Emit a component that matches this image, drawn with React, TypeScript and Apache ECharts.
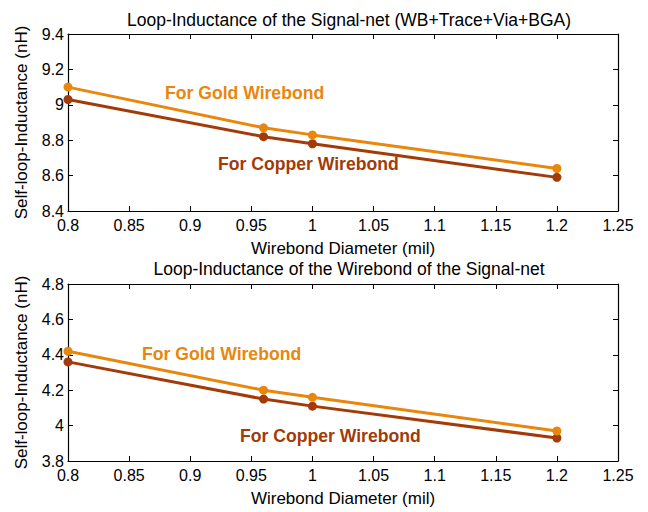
import React, { useEffect, useRef } from "react";
import * as echarts from "echarts";

const diameters = [0.8, 0.96, 1.0, 1.2];
const goldTotal = [9.1, 8.87, 8.83, 8.64];
const copperTotal = [9.03, 8.82, 8.78, 8.59];
const goldWb = [4.42, 4.2, 4.16, 3.97];
const copperWb = [4.36, 4.15, 4.11, 3.93];
const titles = [
  "Loop-Inductance of the Signal-net (WB+Trace+Via+BGA)",
  "Loop-Inductance of the Wirebond of the Signal-net",
];
const xName = "Wirebond Diameter (mil)";
const yName = "Self-loop-Inductance (nH)";
const goldLabel = "For Gold Wirebond";
const copperLabel = "For Copper Wirebond";

const GOLD = "#E8870C";
const COPPER = "#A23B08";
const FONT = "Arial, 'Liberation Sans', Helvetica, sans-serif";

export default function App() {
  const ref = useRef<HTMLDivElement>(null);
  useEffect(() => {
    if (!ref.current) return;
    const chart = echarts.init(ref.current, null, { renderer: "svg" });
    const grids = [
      { left: 68, top: 34, width: 550, height: 177 },
      { left: 68, top: 284, width: 550, height: 177 },
    ];
    const axisLine = { show: true, lineStyle: { color: "#000", width: 1.2 } };
    const tick = { show: true, inside: true, length: 5, lineStyle: { color: "#000" } };
    const xAxes: any[] = [];
    const yAxes: any[] = [];
    const yRanges = [
      [8.4, 9.4],
      [3.8, 4.8],
    ];
    [0, 1].forEach((g) => {
      xAxes.push({
        type: "value",
        gridIndex: g,
        position: "bottom",
        min: 0.8,
        max: 1.25,
        interval: 0.05,
        axisLine,
        axisTick: tick,
        splitLine: { show: false },
        axisLabel: { color: "#000", fontSize: 16, fontFamily: FONT, margin: 6 },
        name: xName,
        nameLocation: "middle",
        nameGap: 29,
        nameTextStyle: { color: "#000", fontSize: 17, fontFamily: FONT },
      });
      xAxes.push({
        type: "value",
        gridIndex: g,
        position: "top",
        min: 0.8,
        max: 1.25,
        interval: 0.05,
        axisLine,
        axisTick: tick,
        splitLine: { show: false },
        axisLabel: { show: false },
      });
      yAxes.push({
        type: "value",
        gridIndex: g,
        position: "left",
        min: yRanges[g][0],
        max: yRanges[g][1],
        interval: 0.2,
        axisLine,
        axisTick: tick,
        splitLine: { show: false },
        axisLabel: { color: "#000", fontSize: 16, fontFamily: FONT, margin: 4 },
        name: yName,
        nameLocation: "middle",
        nameGap: 38,
        nameTextStyle: { color: "#000", fontSize: 17, fontFamily: FONT },
      });
      yAxes.push({
        type: "value",
        gridIndex: g,
        position: "right",
        min: yRanges[g][0],
        max: yRanges[g][1],
        interval: 0.2,
        axisLine,
        axisTick: tick,
        splitLine: { show: false },
        axisLabel: { show: false },
      });
    });
    const mk = (data: number[], color: string, g: number) => ({
      type: "line",
      xAxisIndex: g * 2,
      yAxisIndex: g * 2,
      data: diameters.map((d, i) => [d, data[i]]),
      symbol: "circle",
      symbolSize: 9,
      lineStyle: { color, width: 3 },
      itemStyle: { color },
      z: 3,
    });
    const lbl = (text: string, x: number, y: number, color: string) => ({
      type: "text",
      left: x,
      top: y,
      style: { text, fill: color, font: `bold 17.6px ${FONT}` },
    });
    chart.setOption({
      animation: false,
      title: [
        {
          text: titles[0],
          left: 344,
          textAlign: "center",
          top: 6,
          textStyle: { color: "#000", fontSize: 17.5, fontWeight: "normal", fontFamily: FONT },
        },
        {
          text: titles[1],
          left: 344,
          textAlign: "center",
          top: 255,
          textStyle: { color: "#000", fontSize: 17.5, fontWeight: "normal", fontFamily: FONT },
        },
      ],
      grid: grids,
      xAxis: xAxes,
      yAxis: yAxes,
      series: [
        mk(copperTotal, COPPER, 0),
        mk(goldTotal, GOLD, 0),
        mk(copperWb, COPPER, 1),
        mk(goldWb, GOLD, 1),
      ],
      graphic: [
        lbl(goldLabel, 165, 84, GOLD),
        lbl(copperLabel, 218, 155, COPPER),
        lbl(goldLabel, 142, 345, GOLD),
        lbl(copperLabel, 240, 427, COPPER),
      ],
    });
    return () => chart.dispose();
  }, []);
  return <div ref={ref} style={{ width: 648, height: 512, position: "absolute", left: 0, top: 0, background: "#fff" }} />;
}
